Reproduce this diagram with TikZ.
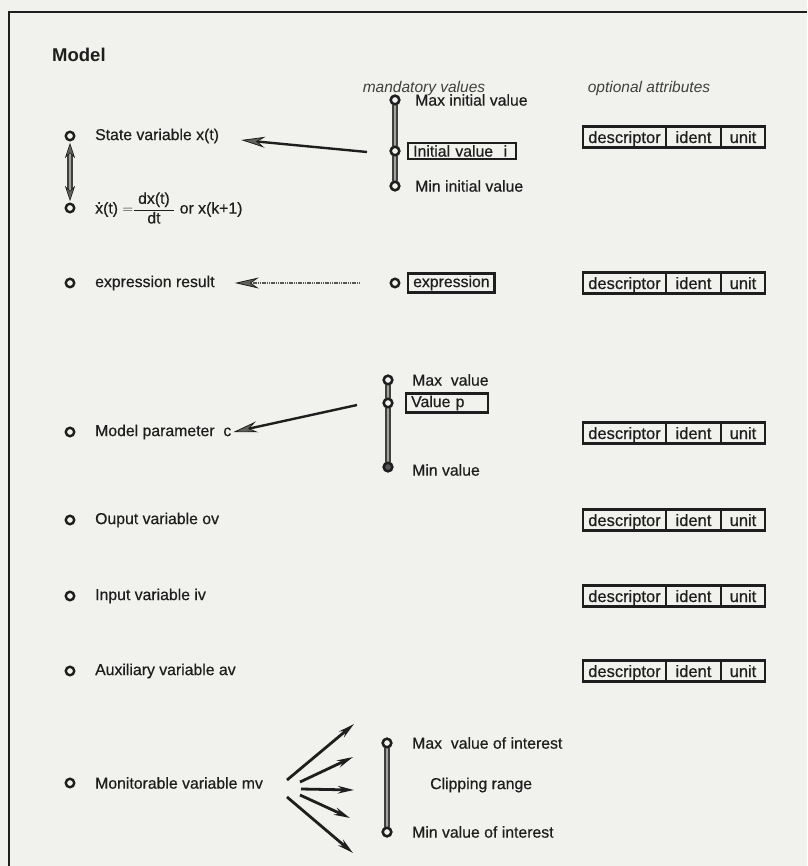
\documentclass[tikz,border=0pt]{standalone}
\usepackage{fontspec}
\setmainfont{Liberation Sans}
\newfontfamily\scanfont{Liberation Sans}[FakeBold=0.5]
\usetikzlibrary{arrows.meta,calc}
\definecolor{paper}{HTML}{F1F1ED}
\definecolor{ink}{HTML}{1E1E1E}
\definecolor{bead}{HTML}{8A8A84}
\newcommand{\xdot}{{\setbox0\hbox{x}\rlap{\hbox to\wd0{\hss\raisebox{0.62em}{.}\hss}}x}}
\begin{document}
\begin{tikzpicture}[x=1pt,y=-1pt,
  txt/.style={anchor=west,inner sep=0pt,text=ink,font=\scanfont\fontsize{15.8}{18}\selectfont},
  head/.style={inner sep=0pt,text=ink!85,font=\fontsize{15.5}{17}\selectfont\itshape},
  ring/.style={circle,draw=ink,line width=2.4pt,fill=paper,inner sep=0pt,minimum size=8.5pt},
  solidring/.style={circle,draw=ink,line width=2.4pt,fill=ink!75,inner sep=0pt,minimum size=8.5pt},
  chain/.style={line width=1.4pt,draw=ink!85,double=bead!80,double distance=2.6pt},
  valbox/.style={draw=ink,line width=2.4pt,inner xsep=5pt,inner ysep=2pt,anchor=west,text=ink,font=\scanfont\fontsize{15.8}{18}\selectfont},
  hatchtip/.tip={Stealth[length=24pt,width=11pt,fill=bead!70!black,color=ink,line width=0.8pt]},
  smalltip/.tip={Stealth[length=15pt,width=10pt,fill=bead!70!black,color=ink,line width=0.6pt]},
  pull/.style={draw=ink,line width=2.4pt,-hatchtip},
  fan/.style={draw=ink,line width=2.8pt,-{Stealth[length=16pt,width=7.5pt]}},
  cell/.style={anchor=base,font=\scanfont\fontsize{16.5}{18}\selectfont,text=ink,inner sep=0pt}
]
% paper and frame
\fill[paper] (0,0) rectangle (807,866);
\useasboundingbox (0,0) rectangle (807,866);
\draw[ink,line width=2.6pt] (807,12) -- (9,12) -- (9,866);

% descriptor / ident / unit record
\newcommand{\attrbox}[2]{%
  \draw[ink,line width=2.6pt] (583,#1-10.5) rectangle (765,#1+10.5);
  \draw[ink,line width=1.4pt] (666,#1-10.5) -- (666,#1+10.5) (721,#1-10.5) -- (721,#1+10.5);
  \node[cell] (#2d) at (624.5,#1+6) {descriptor};
  \node[cell] (#2i) at (693.5,#1+6) {ident};
  \node[cell] (#2u) at (743,#1+6) {unit};
}

% headings
\node[anchor=west,inner sep=0pt,text=ink,font=\fontsize{18.5}{21}\selectfont\bfseries] (title) at (52,55) {Model};
\node[head] (hmand) at (424,88) {mandatory values};
\node[head] (hopt) at (649,88) {optional attributes};

% state variable row
\node[ring] (sv) at (70,136) {};
\node[txt] (svl) at (95,136) {State variable x(t)};
\node[ring] (dx) at (70,208) {};
\node[txt] (dxl) at (95,208) {\xdot(t) $\displaystyle=\!\!\frac{\hbox{\ dx(t)\ }}{\hbox{dt}}$ or x(k+1)};
\coordinate (dtop) at (70,143);
\coordinate (dbot) at (70,201);
\draw[chain,smalltip-smalltip] (dtop) -- (dbot);

\node[ring] (smax) at (395,100) {};
\node[ring] (sini) at (395,151) {};
\node[ring] (smin) at (395,186) {};
\draw[chain] (smax) -- (sini) -- (smin);
\node[ring] at (395,100) {};
\node[ring] at (395,151) {};
\node[ring] at (395,186) {};
\node[txt] (smaxl) at (415,100) {Max initial value};
\node[valbox,minimum width=108pt,align=left,text width=98pt] (sinil) at (407,151) {Initial value\ \ i};
\node[txt] (sminl) at (415,186) {Min initial value};
\coordinate (sfrom) at (367,152);
\draw[pull] (sfrom) -- ($(svl.east)+(22,4)$);
\attrbox{137}{sa}

% expression row
\node[ring] (ex) at (70,283) {};
\node[txt] (exl) at (95,283) {expression result};
\node[ring] (exv) at (395,283) {};
\node[valbox] (exb) at (407,283) {expression};
\coordinate (efrom) at (360,283);
\draw[draw=ink!75,line width=2pt,dash pattern=on 1.2pt off 0.6pt,-hatchtip] (efrom) -- ($(exl.east)+(20,0)$);
\attrbox{283}{ea}

% model parameter row
\node[ring] (mp) at (70,432) {};
\node[txt] (mpl) at (95,432) {Model parameter\ \ c};
\node[ring] (pmax) at (388,380) {};
\node[ring] (pval) at (388,403) {};
\node[solidring] (pmin) at (388,467) {};
\draw[chain] (pmax) -- (pval) -- (pmin);
\node[ring] at (388,380) {};
\node[ring] at (388,403) {};
\node[solidring] at (388,467) {};
\node[txt] (pmaxl) at (412,380) {Max\ \ value};
\node[valbox,minimum width=82pt,align=left,text width=72pt] (pvall) at (405,403) {Value p};
\node[txt] (pminl) at (412,470) {Min value};
\coordinate (pfrom) at (357,405);
\draw[pull] (pfrom) -- ($(mpl.east)+(2,0)$);
\attrbox{433}{pa}

% plain variables
\node[ring] (ov) at (70,520) {};
\node[txt] (ovl) at (95,520) {Ouput variable ov};
\attrbox{520}{oa}
\node[ring] (iv) at (70,596) {};
\node[txt] (ivl) at (95,596) {Input variable iv};
\attrbox{596}{ia}
\node[ring] (av) at (70,671) {};
\node[txt] (avl) at (95,671) {Auxiliary variable av};
\attrbox{671}{aa}

% monitorable variable row
\node[ring] (mv) at (70,783) {};
\node[txt] (mvl) at (95,783) {Monitorable variable mv};
\coordinate (f1a) at (287,780); \coordinate (f1b) at (354,724);
\coordinate (f2a) at (300,782); \coordinate (f2b) at (353,757);
\coordinate (f3a) at (301,789); \coordinate (f3b) at (354,790);
\coordinate (f4a) at (300,795); \coordinate (f4b) at (350,818);
\coordinate (f5a) at (287,797); \coordinate (f5b) at (353,853);
\draw[fan] (f1a) -- (f1b);
\draw[fan] (f2a) -- (f2b);
\draw[fan] (f3a) -- (f3b);
\draw[fan] (f4a) -- (f4b);
\draw[fan] (f5a) -- (f5b);
\node[ring] (cmax) at (387,743) {};
\node[ring] (cmin) at (387,832) {};
\draw[chain] (cmax) -- (cmin);
\node[ring] at (387,743) {};
\node[ring] at (387,832) {};
\node[txt] (cmaxl) at (412,743) {Max\ \ value of interest};
\node[txt] (crng) at (430,785) {Clipping range};
\node[txt] (cminl) at (412,832) {Min value of interest};
\end{tikzpicture}
\end{document}
